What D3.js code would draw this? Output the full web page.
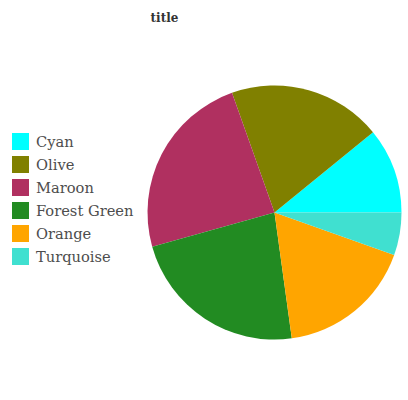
<!DOCTYPE html>
<html>
<head>
<meta charset="utf-8">
<script src="https://cdn.jsdelivr.net/npm/d3@7"></script>
<style>
  body { margin: 0; background: #fff; }
</style>
</head>
<body>
<svg id="chart" width="408" height="400"></svg>
<script>
var categories = ["Cyan", "Olive", "Maroon", "Forest Green", "Orange", "Turquoise"];
var values = [10, 18, 22, 21, 16, 5];
var colors = ["#00ffff", "#808000", "#b03060", "#228b22", "#ffa500", "#40e0d0"];

var svg = d3.select("#chart");

var data = categories.map(function(c, i) { return { name: c, value: values[i] }; });

var color = d3.scaleOrdinal().domain(categories).range(colors);

// slices go counter-clockwise from 3 o'clock
var pie = d3.pie()
            .sort(null)
            .value(function(d) { return d.value; })
            .startAngle(Math.PI / 2)
            .endAngle(Math.PI / 2 - 2 * Math.PI);

var arc = d3.arc().innerRadius(0).outerRadius(127);

svg.append("g")
   .attr("transform", "translate(274.5,212.5)")
   .selectAll("path")
   .data(pie(data))
   .enter()
   .append("path")
   .attr("d", arc)
   .attr("fill", function(d) { return color(d.data.name); });

svg.append("text")
   .attr("x", 164.5)
   .attr("y", 22)
   .attr("text-anchor", "middle")
   .attr("font-family", "DejaVu Serif")
   .attr("font-weight", "bold")
   .attr("font-size", 12)
   .attr("fill", "#333")
   .text("title");

var legend = svg.append("g")
                .selectAll("g")
                .data(categories)
                .enter()
                .append("g")
                .attr("transform", function(d, i) { return "translate(12," + (133 + i * 23) + ")"; });

legend.append("rect")
      .attr("width", 17)
      .attr("height", 17)
      .attr("fill", function(d) { return color(d); });

legend.append("text")
      .attr("x", 24)
      .attr("y", 13.5)
      .attr("font-family", "DejaVu Serif")
      .attr("font-size", 14.67)
      .attr("fill", "#4d4d4d")
      .text(function(d) { return d; });
</script>
</body>
</html>
